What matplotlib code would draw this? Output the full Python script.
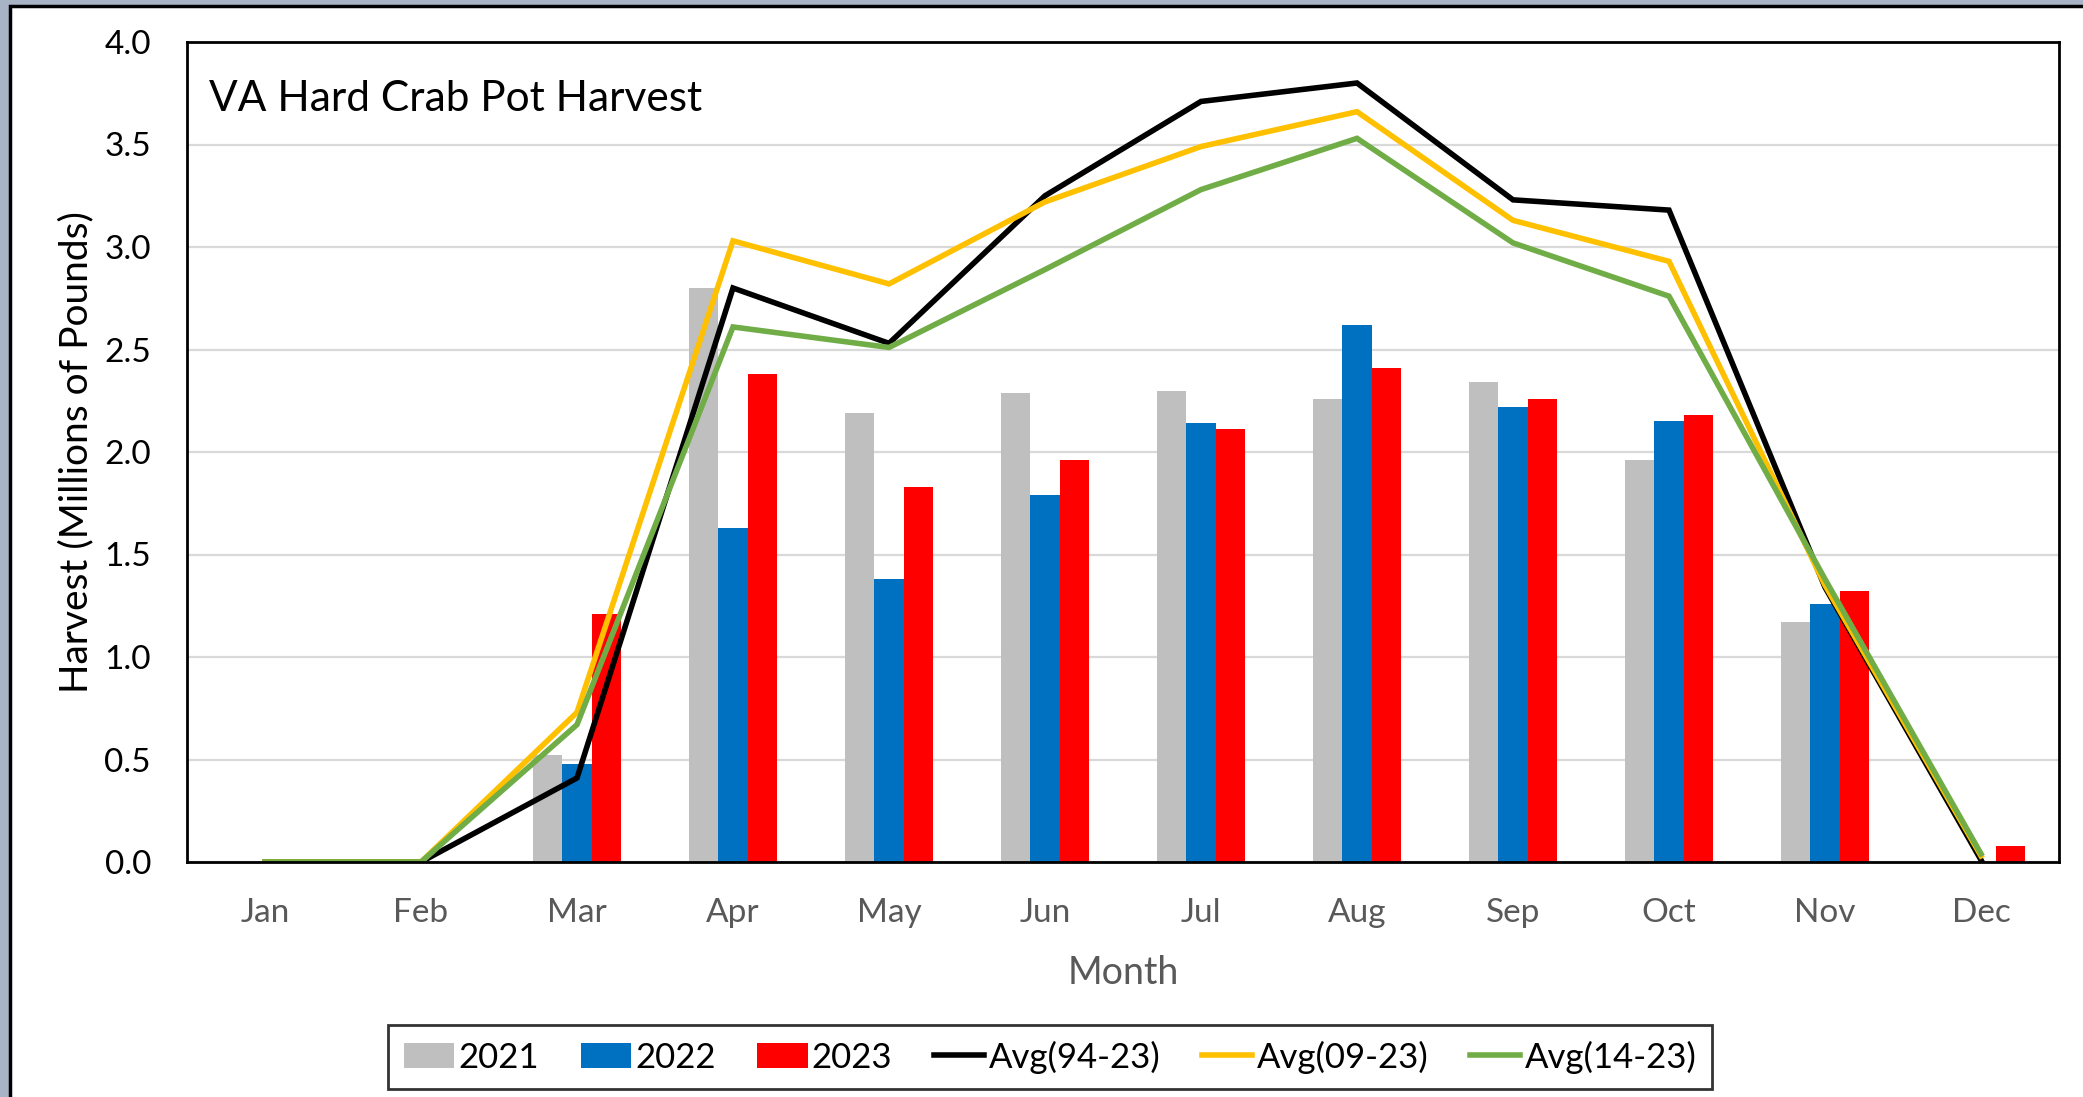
import numpy as np
import matplotlib
matplotlib.use("Agg")
import matplotlib.pyplot as plt
from matplotlib.patches import Rectangle, Patch
from matplotlib.lines import Line2D

plt.rcParams["font.family"] = ["Lato", "DejaVu Sans"]

months = ["Jan", "Feb", "Mar", "Apr", "May", "Jun", "Jul", "Aug", "Sep", "Oct", "Nov", "Dec"]

h2021 = [0, 0, 0.52, 2.80, 2.19, 2.29, 2.30, 2.26, 2.34, 1.96, 1.17, 0]
h2022 = [0, 0, 0.48, 1.63, 1.38, 1.79, 2.14, 2.62, 2.22, 2.15, 1.26, 0]
h2023 = [0, 0, 1.21, 2.38, 1.83, 1.96, 2.11, 2.41, 2.26, 2.18, 1.32, 0.08]

avg_94_23 = [0, 0, 0.41, 2.80, 2.53, 3.25, 3.71, 3.80, 3.23, 3.18, 1.34, 0.01]
avg_09_23 = [0, 0, 0.73, 3.03, 2.82, 3.22, 3.49, 3.66, 3.13, 2.93, 1.35, 0.03]
avg_14_23 = [0, 0, 0.67, 2.61, 2.51, 2.89, 3.28, 3.53, 3.02, 2.76, 1.38, 0.04]

bar_names = ["2021", "2022", "2023"]
bar_colors = ["#bfbfbf", "#0070c0", "#ff0000"]
line_names = ["Avg(94-23)", "Avg(09-23)", "Avg(14-23)"]
line_colors = ["#000000", "#ffc000", "#70ad47"]

W, H = 2083, 1097
fig = plt.figure(figsize=(W / 100, H / 100), dpi=100)
fig.patch.set_facecolor("#a8b4c6")

# white chart area with black frame (right/bottom run off the image)
frame = Rectangle((10 / W, -0.01), 1.02, 1 - 6 / H + 0.01, transform=fig.transFigure,
                  facecolor="white", edgecolor="black", linewidth=2.5, zorder=0)
fig.add_artist(frame)

ax = fig.add_axes([187 / W, 1 - 862 / H, (2059 - 187) / W, (862 - 42) / H])
ax.set_facecolor("white")

x = np.arange(len(months))
bw = 0.19
for i, (vals, c) in enumerate(zip([h2021, h2022, h2023], bar_colors)):
    ax.bar(x + (i - 1) * bw, vals, width=bw, color=c, zorder=2)

for vals, c in zip([avg_94_23, avg_09_23, avg_14_23], line_colors):
    ax.plot(x, vals, color=c, lw=4, zorder=3, solid_joinstyle="miter")

ax.set_xlim(-0.5, 11.5)
ax.set_ylim(0, 4.0)
ax.set_yticks(np.arange(0, 4.01, 0.5))
ax.set_yticklabels([f"{v:.1f}" for v in np.arange(0, 4.01, 0.5)])
ax.set_xticks(x)
ax.set_xticklabels(months, color="#595959")
ax.tick_params(axis="both", length=0, labelsize=24)
ax.tick_params(axis="x", pad=26)
ax.tick_params(axis="y", pad=26)
ax.grid(axis="y", color="#d9d9d9", lw=1.6, zorder=1)
ax.set_axisbelow(True)
for s in ax.spines.values():
    s.set_linewidth(2)
    s.set_color("black")
    s.set_zorder(4)

ax.set_xlabel("Month", fontsize=27, color="#595959", labelpad=19)
ax.set_ylabel("Harvest (Millions of Pounds)", fontsize=28, labelpad=7)
ax.text(0.012, 0.93, "VA Hard Crab Pot Harvest", transform=ax.transAxes,
        fontsize=30.5, va="center", ha="left")

handles = [Patch(facecolor=c, label=n) for n, c in zip(bar_names, bar_colors)]
handles += [Line2D([], [], color=c, lw=4, label=n) for n, c in zip(line_names, line_colors)]
leg = fig.legend(handles=handles, loc="center", bbox_to_anchor=(1050 / W, 1 - 1057 / H),
                 ncol=6, fontsize=25, frameon=True, fancybox=False, edgecolor="black",
                 handlelength=1.45, handletextpad=0.12, columnspacing=1.2,
                 borderpad=0.45)
leg.get_frame().set_linewidth(2)

fig.savefig("out.png", dpi=100, facecolor=fig.get_facecolor())
